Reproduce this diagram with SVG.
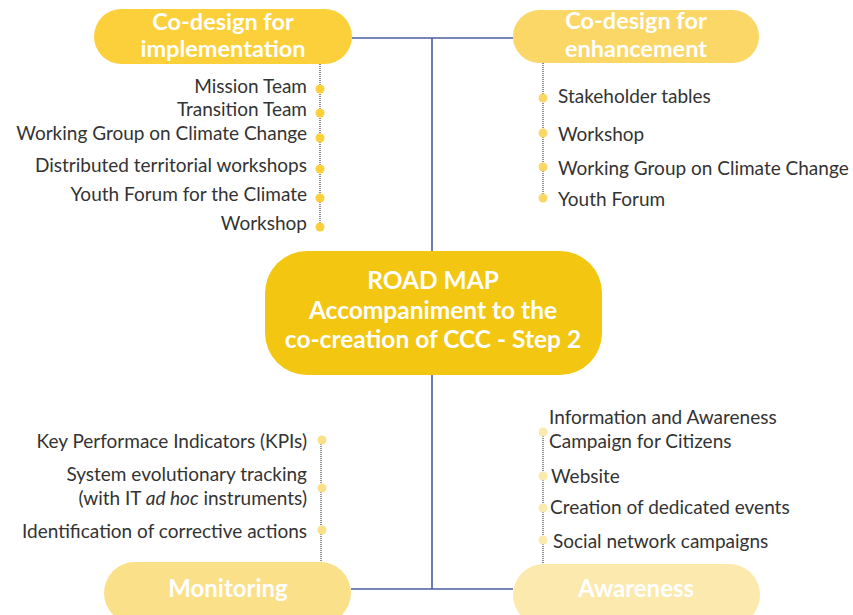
<svg xmlns="http://www.w3.org/2000/svg" width="853" height="615" viewBox="0 0 853 615">
<style>
.lbl{font-family:Lato,"Liberation Sans",sans-serif;font-size:19px;fill:#333333}
.r{text-anchor:end}
.hd{font-family:Lato,"Liberation Sans",sans-serif;font-weight:bold;fill:#ffffff;text-anchor:middle}
.dots{stroke:#444;stroke-width:1.2;stroke-dasharray:1 1;fill:none}
.conn{stroke:#4A5C9E;stroke-width:1.6;fill:none}
</style>
<rect width="853" height="615" fill="#ffffff"/>
<g id="connectors">
<path class="conn" d="M352 38 H513 M432 38 V251 M432 375 V589 M351 589 H513"/>
<path class="dots" d="M320 64 V232"/>
<path class="dots" d="M543 63 V200"/>
<path class="dots" d="M321 440 V563"/>
<path class="dots" d="M543 432 V566"/>
</g>
<g id="node-implementation">
<rect x="94" y="9" width="258" height="55" rx="27.5" fill="#FCD03A"/>
<text class="hd" x="223" y="30" font-size="23.5">Co-design for</text>
<text class="hd" x="223" y="57" font-size="23.5">implementation</text>
</g>
<g id="node-enhancement">
<rect x="513" y="10" width="246" height="53" rx="26.5" fill="#FAD767"/>
<text class="hd" x="636" y="29" font-size="23.5">Co-design for</text>
<text class="hd" x="636" y="57" font-size="23.5">enhancement</text>
</g>
<g id="node-roadmap">
<rect x="265" y="251" width="337" height="124" rx="42" fill="#F2C611"/>
<text class="hd" x="433" y="289" font-size="24.5">ROAD MAP</text>
<text class="hd" x="433" y="319" font-size="24.5">Accompaniment to the</text>
<text class="hd" x="433" y="348" font-size="24.5">co-creation of CCC - Step 2</text>
</g>
<g id="node-monitoring">
<rect x="104" y="562" width="247" height="62" rx="31" fill="#FBE08A"/>
<text class="hd" x="228" y="597" font-size="24" font-weight="normal">Monitoring</text>
</g>
<g id="node-awareness">
<rect x="513" y="564" width="247" height="62" rx="31" fill="#FCE9AE"/>
<text class="hd" x="636" y="597" font-size="24" font-weight="normal">Awareness</text>
</g>
<g id="list-implementation">
<circle cx="320" cy="89" r="4.5" fill="#FCD03A"/>
<text class="lbl r" x="307" y="93">Mission Team</text>
<circle cx="320" cy="113" r="4.5" fill="#FCD03A"/>
<text class="lbl r" x="307" y="116">Transition Team</text>
<circle cx="320" cy="138" r="4.5" fill="#FCD03A"/>
<text class="lbl r" x="307" y="140">Working Group on Climate Change</text>
<circle cx="320" cy="169" r="4.5" fill="#FCD03A"/>
<text class="lbl r" x="307" y="172">Distributed territorial workshops</text>
<circle cx="320" cy="198" r="4.5" fill="#FCD03A"/>
<text class="lbl r" x="307" y="201">Youth Forum for the Climate</text>
<circle cx="320" cy="227" r="4.5" fill="#FCD03A"/>
<text class="lbl r" x="307" y="230">Workshop</text>
</g>
<g id="list-enhancement">
<circle cx="543" cy="98" r="4.5" fill="#FAD767"/>
<text class="lbl" x="558" y="103">Stakeholder tables</text>
<circle cx="543" cy="133" r="4.5" fill="#FAD767"/>
<text class="lbl" x="558" y="141">Workshop</text>
<circle cx="543" cy="167" r="4.5" fill="#FAD767"/>
<text class="lbl" x="558" y="175">Working Group on Climate Change</text>
<circle cx="543" cy="198" r="4.5" fill="#FAD767"/>
<text class="lbl" x="558" y="206">Youth Forum</text>
</g>
<g id="list-monitoring">
<circle cx="322" cy="440" r="4.5" fill="#FBE08A"/>
<text class="lbl r" x="307" y="448">Key Performace Indicators (KPIs)</text>
<circle cx="322" cy="488" r="4.5" fill="#FBE08A"/>
<text class="lbl r" x="307" y="481">System evolutionary tracking</text>
<text class="lbl r" x="307" y="505">(with IT <tspan font-style="italic">ad hoc</tspan> instruments)</text>
<circle cx="322" cy="530" r="4.5" fill="#FBE08A"/>
<text class="lbl r" x="307" y="538">Identification of corrective actions</text>
</g>
<g id="list-awareness">
<circle cx="543" cy="432" r="4.5" fill="#FCE9AE"/>
<text class="lbl" x="549" y="424">Information and Awareness</text>
<text class="lbl" x="549" y="448">Campaign for Citizens</text>
<circle cx="543" cy="476" r="4.5" fill="#FCE9AE"/>
<text class="lbl" x="551" y="483">Website</text>
<circle cx="543" cy="508" r="4.5" fill="#FCE9AE"/>
<text class="lbl" x="550" y="514">Creation of dedicated events</text>
<circle cx="543" cy="540" r="4.5" fill="#FCE9AE"/>
<text class="lbl" x="553" y="548">Social network campaigns</text>
</g>
</svg>
